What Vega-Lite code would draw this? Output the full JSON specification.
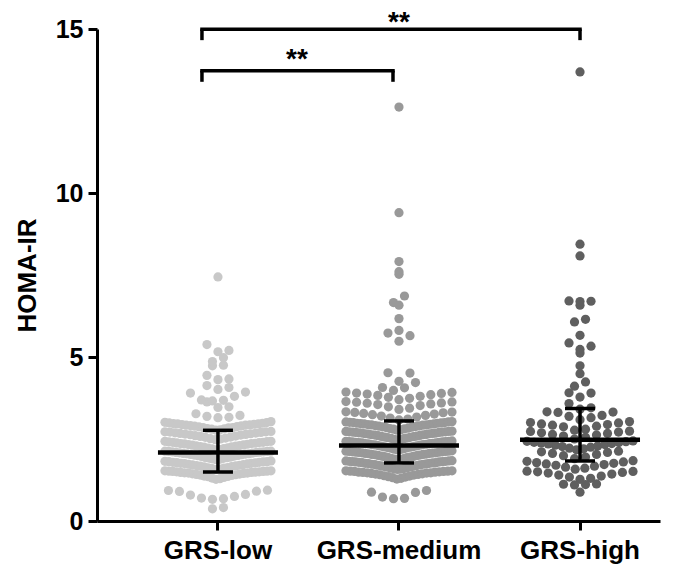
{
"$schema": "https://vega.github.io/schema/vega-lite/v6.json",
"width": 563, "height": 492,
"autosize": {"type": "none"},
"padding": {"left": 97, "top": 29, "right": 34, "bottom": 50},
"background": "white",
"config": {
 "view": {"stroke": null},
 "font": "Liberation Sans",
 "tick": {"opacity": 1},
 "axis": {"domainColor": "#000", "domainWidth": 3, "tickColor": "#000", "tickWidth": 3, "tickSize": 9, "labelColor": "#000", "labelFont": "Liberation Sans", "labelFontWeight": "bold", "titleColor": "#000", "titleFont": "Liberation Sans", "titleFontWeight": "bold", "grid": false},
 "axisX": {"title": null, "labelAngle": 0, "labelFontSize": 26, "labelPadding": 7},
 "axisY": {"labelFontSize": 25, "labelPadding": 5, "titleFontSize": 26, "titlePadding": 14}
},
"datasets": {
 "pts": [
{"group":"GRS-low","homa":3.15},{"group":"GRS-low","homa":3.16},{"group":"GRS-low","homa":3.19},{"group":"GRS-low","homa":3.22},{"group":"GRS-low","homa":3.27},{"group":"GRS-low","homa":3.46},{"group":"GRS-low","homa":3.48},{"group":"GRS-low","homa":3.63},{"group":"GRS-low","homa":3.66},{"group":"GRS-low","homa":3.68},{"group":"GRS-low","homa":3.69},{"group":"GRS-low","homa":3.80},{"group":"GRS-low","homa":3.90},{"group":"GRS-low","homa":3.93},{"group":"GRS-low","homa":4.01},{"group":"GRS-low","homa":4.07},{"group":"GRS-low","homa":4.13},{"group":"GRS-low","homa":4.31},{"group":"GRS-low","homa":4.33},{"group":"GRS-low","homa":4.44},{"group":"GRS-low","homa":4.73},{"group":"GRS-low","homa":4.75},{"group":"GRS-low","homa":4.86},{"group":"GRS-low","homa":4.98},{"group":"GRS-low","homa":5.16},{"group":"GRS-low","homa":5.20},{"group":"GRS-low","homa":5.38},{"group":"GRS-low","homa":7.44},
{"group":"GRS-low","homa":2.77},{"group":"GRS-low","homa":2.78},{"group":"GRS-low","homa":2.80},{"group":"GRS-low","homa":2.81},{"group":"GRS-low","homa":2.82},{"group":"GRS-low","homa":2.84},{"group":"GRS-low","homa":2.85},{"group":"GRS-low","homa":2.85},{"group":"GRS-low","homa":2.87},{"group":"GRS-low","homa":2.88},{"group":"GRS-low","homa":2.89},{"group":"GRS-low","homa":2.90},{"group":"GRS-low","homa":2.91},{"group":"GRS-low","homa":2.92},{"group":"GRS-low","homa":2.92},{"group":"GRS-low","homa":2.93},{"group":"GRS-low","homa":2.94},{"group":"GRS-low","homa":2.95},{"group":"GRS-low","homa":2.96},{"group":"GRS-low","homa":2.96},{"group":"GRS-low","homa":2.97},{"group":"GRS-low","homa":2.98},{"group":"GRS-low","homa":2.99},{"group":"GRS-low","homa":3.00},{"group":"GRS-low","homa":3.01},{"group":"GRS-low","homa":3.03},
{"group":"GRS-low","homa":2.48},{"group":"GRS-low","homa":2.50},{"group":"GRS-low","homa":2.51},{"group":"GRS-low","homa":2.53},{"group":"GRS-low","homa":2.55},{"group":"GRS-low","homa":2.56},{"group":"GRS-low","homa":2.58},{"group":"GRS-low","homa":2.59},{"group":"GRS-low","homa":2.60},{"group":"GRS-low","homa":2.62},{"group":"GRS-low","homa":2.63},{"group":"GRS-low","homa":2.64},{"group":"GRS-low","homa":2.65},{"group":"GRS-low","homa":2.66},{"group":"GRS-low","homa":2.67},{"group":"GRS-low","homa":2.68},{"group":"GRS-low","homa":2.69},{"group":"GRS-low","homa":2.70},{"group":"GRS-low","homa":2.71},{"group":"GRS-low","homa":2.72},{"group":"GRS-low","homa":2.72},{"group":"GRS-low","homa":2.73},
{"group":"GRS-low","homa":2.17},{"group":"GRS-low","homa":2.18},{"group":"GRS-low","homa":2.20},{"group":"GRS-low","homa":2.21},{"group":"GRS-low","homa":2.22},{"group":"GRS-low","homa":2.23},{"group":"GRS-low","homa":2.25},{"group":"GRS-low","homa":2.26},{"group":"GRS-low","homa":2.27},{"group":"GRS-low","homa":2.28},{"group":"GRS-low","homa":2.29},{"group":"GRS-low","homa":2.30},{"group":"GRS-low","homa":2.31},{"group":"GRS-low","homa":2.32},{"group":"GRS-low","homa":2.33},{"group":"GRS-low","homa":2.34},{"group":"GRS-low","homa":2.35},{"group":"GRS-low","homa":2.36},{"group":"GRS-low","homa":2.36},{"group":"GRS-low","homa":2.37},{"group":"GRS-low","homa":2.38},{"group":"GRS-low","homa":2.39},{"group":"GRS-low","homa":2.40},{"group":"GRS-low","homa":2.40},{"group":"GRS-low","homa":2.41},{"group":"GRS-low","homa":2.42},{"group":"GRS-low","homa":2.43},{"group":"GRS-low","homa":2.43},
{"group":"GRS-low","homa":1.87},{"group":"GRS-low","homa":1.88},{"group":"GRS-low","homa":1.89},{"group":"GRS-low","homa":1.91},{"group":"GRS-low","homa":1.92},{"group":"GRS-low","homa":1.93},{"group":"GRS-low","homa":1.94},{"group":"GRS-low","homa":1.95},{"group":"GRS-low","homa":1.97},{"group":"GRS-low","homa":1.98},{"group":"GRS-low","homa":1.99},{"group":"GRS-low","homa":2.00},{"group":"GRS-low","homa":2.01},{"group":"GRS-low","homa":2.02},{"group":"GRS-low","homa":2.03},{"group":"GRS-low","homa":2.04},{"group":"GRS-low","homa":2.05},{"group":"GRS-low","homa":2.05},{"group":"GRS-low","homa":2.06},{"group":"GRS-low","homa":2.07},{"group":"GRS-low","homa":2.08},{"group":"GRS-low","homa":2.09},{"group":"GRS-low","homa":2.09},{"group":"GRS-low","homa":2.10},{"group":"GRS-low","homa":2.11},{"group":"GRS-low","homa":2.11},{"group":"GRS-low","homa":2.12},{"group":"GRS-low","homa":2.12},{"group":"GRS-low","homa":2.13},{"group":"GRS-low","homa":2.13},
{"group":"GRS-low","homa":1.57},{"group":"GRS-low","homa":1.58},{"group":"GRS-low","homa":1.60},{"group":"GRS-low","homa":1.61},{"group":"GRS-low","homa":1.62},{"group":"GRS-low","homa":1.63},{"group":"GRS-low","homa":1.65},{"group":"GRS-low","homa":1.66},{"group":"GRS-low","homa":1.67},{"group":"GRS-low","homa":1.68},{"group":"GRS-low","homa":1.69},{"group":"GRS-low","homa":1.70},{"group":"GRS-low","homa":1.71},{"group":"GRS-low","homa":1.72},{"group":"GRS-low","homa":1.73},{"group":"GRS-low","homa":1.74},{"group":"GRS-low","homa":1.75},{"group":"GRS-low","homa":1.76},{"group":"GRS-low","homa":1.76},{"group":"GRS-low","homa":1.77},{"group":"GRS-low","homa":1.78},{"group":"GRS-low","homa":1.79},{"group":"GRS-low","homa":1.79},{"group":"GRS-low","homa":1.80},{"group":"GRS-low","homa":1.81},{"group":"GRS-low","homa":1.81},{"group":"GRS-low","homa":1.82},{"group":"GRS-low","homa":1.83},
{"group":"GRS-low","homa":1.27},{"group":"GRS-low","homa":1.29},{"group":"GRS-low","homa":1.31},{"group":"GRS-low","homa":1.33},{"group":"GRS-low","homa":1.35},{"group":"GRS-low","homa":1.36},{"group":"GRS-low","homa":1.37},{"group":"GRS-low","homa":1.39},{"group":"GRS-low","homa":1.40},{"group":"GRS-low","homa":1.41},{"group":"GRS-low","homa":1.42},{"group":"GRS-low","homa":1.43},{"group":"GRS-low","homa":1.44},{"group":"GRS-low","homa":1.45},{"group":"GRS-low","homa":1.46},{"group":"GRS-low","homa":1.46},{"group":"GRS-low","homa":1.47},{"group":"GRS-low","homa":1.48},{"group":"GRS-low","homa":1.48},{"group":"GRS-low","homa":1.49},{"group":"GRS-low","homa":1.50},{"group":"GRS-low","homa":1.50},{"group":"GRS-low","homa":1.51},{"group":"GRS-low","homa":1.51},{"group":"GRS-low","homa":1.52},{"group":"GRS-low","homa":1.52},{"group":"GRS-low","homa":1.53},{"group":"GRS-low","homa":1.53},
{"group":"GRS-low","homa":0.66},{"group":"GRS-low","homa":0.68},{"group":"GRS-low","homa":0.70},{"group":"GRS-low","homa":0.75},{"group":"GRS-low","homa":0.79},{"group":"GRS-low","homa":0.81},{"group":"GRS-low","homa":0.90},{"group":"GRS-low","homa":0.91},{"group":"GRS-low","homa":0.93},{"group":"GRS-low","homa":0.94},{"group":"GRS-low","homa":0.37},{"group":"GRS-low","homa":0.41},
{"group":"GRS-medium","homa":12.62},{"group":"GRS-medium","homa":9.40},{"group":"GRS-medium","homa":7.91},{"group":"GRS-medium","homa":7.60},{"group":"GRS-medium","homa":7.52},{"group":"GRS-medium","homa":6.86},{"group":"GRS-medium","homa":6.66},{"group":"GRS-medium","homa":6.58},{"group":"GRS-medium","homa":6.17},{"group":"GRS-medium","homa":5.81},{"group":"GRS-medium","homa":5.73},{"group":"GRS-medium","homa":5.65},{"group":"GRS-medium","homa":5.48},{"group":"GRS-medium","homa":4.52},{"group":"GRS-medium","homa":4.51},{"group":"GRS-medium","homa":4.26},{"group":"GRS-medium","homa":4.22},{"group":"GRS-medium","homa":4.07},{"group":"GRS-medium","homa":4.06},{"group":"GRS-medium","homa":3.98},
{"group":"GRS-medium","homa":3.70},{"group":"GRS-medium","homa":3.74},{"group":"GRS-medium","homa":3.77},{"group":"GRS-medium","homa":3.80},{"group":"GRS-medium","homa":3.83},{"group":"GRS-medium","homa":3.85},{"group":"GRS-medium","homa":3.87},{"group":"GRS-medium","homa":3.89},{"group":"GRS-medium","homa":3.90},{"group":"GRS-medium","homa":3.92},{"group":"GRS-medium","homa":3.93},
{"group":"GRS-medium","homa":3.40},{"group":"GRS-medium","homa":3.44},{"group":"GRS-medium","homa":3.48},{"group":"GRS-medium","homa":3.52},{"group":"GRS-medium","homa":3.55},{"group":"GRS-medium","homa":3.57},{"group":"GRS-medium","homa":3.59},{"group":"GRS-medium","homa":3.60},{"group":"GRS-medium","homa":3.62},{"group":"GRS-medium","homa":3.63},{"group":"GRS-medium","homa":3.64},
{"group":"GRS-medium","homa":3.08},{"group":"GRS-medium","homa":3.11},{"group":"GRS-medium","homa":3.14},{"group":"GRS-medium","homa":3.17},{"group":"GRS-medium","homa":3.20},{"group":"GRS-medium","homa":3.22},{"group":"GRS-medium","homa":3.24},{"group":"GRS-medium","homa":3.26},{"group":"GRS-medium","homa":3.28},{"group":"GRS-medium","homa":3.30},{"group":"GRS-medium","homa":3.31},{"group":"GRS-medium","homa":3.32},{"group":"GRS-medium","homa":3.33},
{"group":"GRS-medium","homa":2.77},{"group":"GRS-medium","homa":2.78},{"group":"GRS-medium","homa":2.80},{"group":"GRS-medium","homa":2.81},{"group":"GRS-medium","homa":2.82},{"group":"GRS-medium","homa":2.83},{"group":"GRS-medium","homa":2.85},{"group":"GRS-medium","homa":2.86},{"group":"GRS-medium","homa":2.87},{"group":"GRS-medium","homa":2.88},{"group":"GRS-medium","homa":2.89},{"group":"GRS-medium","homa":2.90},{"group":"GRS-medium","homa":2.91},{"group":"GRS-medium","homa":2.92},{"group":"GRS-medium","homa":2.93},{"group":"GRS-medium","homa":2.93},{"group":"GRS-medium","homa":2.94},{"group":"GRS-medium","homa":2.95},{"group":"GRS-medium","homa":2.96},{"group":"GRS-medium","homa":2.96},{"group":"GRS-medium","homa":2.97},{"group":"GRS-medium","homa":2.98},{"group":"GRS-medium","homa":2.98},{"group":"GRS-medium","homa":2.99},{"group":"GRS-medium","homa":3.00},{"group":"GRS-medium","homa":3.00},{"group":"GRS-medium","homa":3.01},{"group":"GRS-medium","homa":3.02},{"group":"GRS-medium","homa":3.02},{"group":"GRS-medium","homa":3.03},
{"group":"GRS-medium","homa":2.47},{"group":"GRS-medium","homa":2.48},{"group":"GRS-medium","homa":2.49},{"group":"GRS-medium","homa":2.51},{"group":"GRS-medium","homa":2.52},{"group":"GRS-medium","homa":2.53},{"group":"GRS-medium","homa":2.54},{"group":"GRS-medium","homa":2.55},{"group":"GRS-medium","homa":2.56},{"group":"GRS-medium","homa":2.57},{"group":"GRS-medium","homa":2.58},{"group":"GRS-medium","homa":2.59},{"group":"GRS-medium","homa":2.60},{"group":"GRS-medium","homa":2.61},{"group":"GRS-medium","homa":2.62},{"group":"GRS-medium","homa":2.63},{"group":"GRS-medium","homa":2.63},{"group":"GRS-medium","homa":2.64},{"group":"GRS-medium","homa":2.65},{"group":"GRS-medium","homa":2.66},{"group":"GRS-medium","homa":2.66},{"group":"GRS-medium","homa":2.67},{"group":"GRS-medium","homa":2.68},{"group":"GRS-medium","homa":2.68},{"group":"GRS-medium","homa":2.69},{"group":"GRS-medium","homa":2.70},{"group":"GRS-medium","homa":2.70},{"group":"GRS-medium","homa":2.71},{"group":"GRS-medium","homa":2.71},{"group":"GRS-medium","homa":2.72},{"group":"GRS-medium","homa":2.72},{"group":"GRS-medium","homa":2.73},{"group":"GRS-medium","homa":2.73},{"group":"GRS-medium","homa":2.74},
{"group":"GRS-medium","homa":2.17},{"group":"GRS-medium","homa":2.18},{"group":"GRS-medium","homa":2.19},{"group":"GRS-medium","homa":2.20},{"group":"GRS-medium","homa":2.22},{"group":"GRS-medium","homa":2.23},{"group":"GRS-medium","homa":2.24},{"group":"GRS-medium","homa":2.25},{"group":"GRS-medium","homa":2.26},{"group":"GRS-medium","homa":2.27},{"group":"GRS-medium","homa":2.28},{"group":"GRS-medium","homa":2.29},{"group":"GRS-medium","homa":2.30},{"group":"GRS-medium","homa":2.31},{"group":"GRS-medium","homa":2.32},{"group":"GRS-medium","homa":2.33},{"group":"GRS-medium","homa":2.33},{"group":"GRS-medium","homa":2.34},{"group":"GRS-medium","homa":2.35},{"group":"GRS-medium","homa":2.36},{"group":"GRS-medium","homa":2.36},{"group":"GRS-medium","homa":2.37},{"group":"GRS-medium","homa":2.38},{"group":"GRS-medium","homa":2.38},{"group":"GRS-medium","homa":2.39},{"group":"GRS-medium","homa":2.40},{"group":"GRS-medium","homa":2.40},{"group":"GRS-medium","homa":2.41},{"group":"GRS-medium","homa":2.41},{"group":"GRS-medium","homa":2.42},{"group":"GRS-medium","homa":2.42},{"group":"GRS-medium","homa":2.43},{"group":"GRS-medium","homa":2.43},{"group":"GRS-medium","homa":2.44},
{"group":"GRS-medium","homa":1.87},{"group":"GRS-medium","homa":1.88},{"group":"GRS-medium","homa":1.89},{"group":"GRS-medium","homa":1.90},{"group":"GRS-medium","homa":1.91},{"group":"GRS-medium","homa":1.93},{"group":"GRS-medium","homa":1.94},{"group":"GRS-medium","homa":1.95},{"group":"GRS-medium","homa":1.96},{"group":"GRS-medium","homa":1.97},{"group":"GRS-medium","homa":1.98},{"group":"GRS-medium","homa":1.99},{"group":"GRS-medium","homa":2.00},{"group":"GRS-medium","homa":2.01},{"group":"GRS-medium","homa":2.02},{"group":"GRS-medium","homa":2.03},{"group":"GRS-medium","homa":2.03},{"group":"GRS-medium","homa":2.04},{"group":"GRS-medium","homa":2.05},{"group":"GRS-medium","homa":2.06},{"group":"GRS-medium","homa":2.06},{"group":"GRS-medium","homa":2.07},{"group":"GRS-medium","homa":2.08},{"group":"GRS-medium","homa":2.08},{"group":"GRS-medium","homa":2.09},{"group":"GRS-medium","homa":2.10},{"group":"GRS-medium","homa":2.10},{"group":"GRS-medium","homa":2.11},{"group":"GRS-medium","homa":2.11},{"group":"GRS-medium","homa":2.12},{"group":"GRS-medium","homa":2.12},{"group":"GRS-medium","homa":2.13},{"group":"GRS-medium","homa":2.13},{"group":"GRS-medium","homa":2.14},
{"group":"GRS-medium","homa":1.57},{"group":"GRS-medium","homa":1.58},{"group":"GRS-medium","homa":1.59},{"group":"GRS-medium","homa":1.60},{"group":"GRS-medium","homa":1.61},{"group":"GRS-medium","homa":1.62},{"group":"GRS-medium","homa":1.64},{"group":"GRS-medium","homa":1.65},{"group":"GRS-medium","homa":1.66},{"group":"GRS-medium","homa":1.67},{"group":"GRS-medium","homa":1.68},{"group":"GRS-medium","homa":1.69},{"group":"GRS-medium","homa":1.70},{"group":"GRS-medium","homa":1.71},{"group":"GRS-medium","homa":1.72},{"group":"GRS-medium","homa":1.73},{"group":"GRS-medium","homa":1.73},{"group":"GRS-medium","homa":1.74},{"group":"GRS-medium","homa":1.75},{"group":"GRS-medium","homa":1.76},{"group":"GRS-medium","homa":1.76},{"group":"GRS-medium","homa":1.77},{"group":"GRS-medium","homa":1.78},{"group":"GRS-medium","homa":1.78},{"group":"GRS-medium","homa":1.79},{"group":"GRS-medium","homa":1.80},{"group":"GRS-medium","homa":1.80},{"group":"GRS-medium","homa":1.81},{"group":"GRS-medium","homa":1.81},{"group":"GRS-medium","homa":1.82},{"group":"GRS-medium","homa":1.82},{"group":"GRS-medium","homa":1.83},{"group":"GRS-medium","homa":1.83},{"group":"GRS-medium","homa":1.84},
{"group":"GRS-medium","homa":1.28},{"group":"GRS-medium","homa":1.30},{"group":"GRS-medium","homa":1.32},{"group":"GRS-medium","homa":1.34},{"group":"GRS-medium","homa":1.35},{"group":"GRS-medium","homa":1.37},{"group":"GRS-medium","homa":1.38},{"group":"GRS-medium","homa":1.40},{"group":"GRS-medium","homa":1.41},{"group":"GRS-medium","homa":1.42},{"group":"GRS-medium","homa":1.43},{"group":"GRS-medium","homa":1.44},{"group":"GRS-medium","homa":1.45},{"group":"GRS-medium","homa":1.46},{"group":"GRS-medium","homa":1.47},{"group":"GRS-medium","homa":1.47},{"group":"GRS-medium","homa":1.48},{"group":"GRS-medium","homa":1.49},{"group":"GRS-medium","homa":1.49},{"group":"GRS-medium","homa":1.50},{"group":"GRS-medium","homa":1.51},{"group":"GRS-medium","homa":1.51},{"group":"GRS-medium","homa":1.52},{"group":"GRS-medium","homa":1.52},{"group":"GRS-medium","homa":1.53},{"group":"GRS-medium","homa":1.53},
{"group":"GRS-medium","homa":0.68},{"group":"GRS-medium","homa":0.69},{"group":"GRS-medium","homa":0.73},{"group":"GRS-medium","homa":0.87},{"group":"GRS-medium","homa":0.88},{"group":"GRS-medium","homa":0.93},
{"group":"GRS-high","homa":13.69},{"group":"GRS-high","homa":8.44},{"group":"GRS-high","homa":8.08},{"group":"GRS-high","homa":6.70},{"group":"GRS-high","homa":6.71},{"group":"GRS-high","homa":6.69},{"group":"GRS-high","homa":6.58},{"group":"GRS-high","homa":6.15},{"group":"GRS-high","homa":6.07},{"group":"GRS-high","homa":5.66},{"group":"GRS-high","homa":5.43},{"group":"GRS-high","homa":5.33},{"group":"GRS-high","homa":5.23},{"group":"GRS-high","homa":5.12},{"group":"GRS-high","homa":4.73},{"group":"GRS-high","homa":4.49},{"group":"GRS-high","homa":4.24},{"group":"GRS-high","homa":4.11},{"group":"GRS-high","homa":3.90},{"group":"GRS-high","homa":3.91},{"group":"GRS-high","homa":3.78},{"group":"GRS-high","homa":3.58},{"group":"GRS-high","homa":3.45},{"group":"GRS-high","homa":3.41},
{"group":"GRS-high","homa":3.09},{"group":"GRS-high","homa":3.15},{"group":"GRS-high","homa":3.19},{"group":"GRS-high","homa":3.22},{"group":"GRS-high","homa":3.31},{"group":"GRS-high","homa":3.32},{"group":"GRS-high","homa":3.33},
{"group":"GRS-high","homa":2.77},{"group":"GRS-high","homa":2.80},{"group":"GRS-high","homa":2.87},{"group":"GRS-high","homa":2.89},{"group":"GRS-high","homa":2.92},{"group":"GRS-high","homa":2.94},{"group":"GRS-high","homa":2.96},{"group":"GRS-high","homa":2.99},{"group":"GRS-high","homa":3.00},{"group":"GRS-high","homa":3.03},
{"group":"GRS-high","homa":2.50},{"group":"GRS-high","homa":2.55},{"group":"GRS-high","homa":2.59},{"group":"GRS-high","homa":2.62},{"group":"GRS-high","homa":2.64},{"group":"GRS-high","homa":2.67},{"group":"GRS-high","homa":2.69},{"group":"GRS-high","homa":2.71},{"group":"GRS-high","homa":2.73},{"group":"GRS-high","homa":2.74},
{"group":"GRS-high","homa":2.17},{"group":"GRS-high","homa":2.20},{"group":"GRS-high","homa":2.22},{"group":"GRS-high","homa":2.25},{"group":"GRS-high","homa":2.27},{"group":"GRS-high","homa":2.29},{"group":"GRS-high","homa":2.31},{"group":"GRS-high","homa":2.33},{"group":"GRS-high","homa":2.35},{"group":"GRS-high","homa":2.36},{"group":"GRS-high","homa":2.38},{"group":"GRS-high","homa":2.39},{"group":"GRS-high","homa":2.40},{"group":"GRS-high","homa":2.42},{"group":"GRS-high","homa":2.43},{"group":"GRS-high","homa":2.44},
{"group":"GRS-high","homa":1.90},{"group":"GRS-high","homa":1.95},{"group":"GRS-high","homa":1.99},{"group":"GRS-high","homa":2.03},{"group":"GRS-high","homa":2.06},{"group":"GRS-high","homa":2.09},{"group":"GRS-high","homa":2.11},{"group":"GRS-high","homa":2.13},
{"group":"GRS-high","homa":1.58},{"group":"GRS-high","homa":1.61},{"group":"GRS-high","homa":1.64},{"group":"GRS-high","homa":1.67},{"group":"GRS-high","homa":1.70},{"group":"GRS-high","homa":1.72},{"group":"GRS-high","homa":1.74},{"group":"GRS-high","homa":1.76},{"group":"GRS-high","homa":1.78},{"group":"GRS-high","homa":1.80},{"group":"GRS-high","homa":1.82},{"group":"GRS-high","homa":1.84},
{"group":"GRS-high","homa":1.27},{"group":"GRS-high","homa":1.30},{"group":"GRS-high","homa":1.34},{"group":"GRS-high","homa":1.37},{"group":"GRS-high","homa":1.40},{"group":"GRS-high","homa":1.43},{"group":"GRS-high","homa":1.46},{"group":"GRS-high","homa":1.48},{"group":"GRS-high","homa":1.50},{"group":"GRS-high","homa":1.51},{"group":"GRS-high","homa":1.52},
{"group":"GRS-high","homa":1.10},{"group":"GRS-high","homa":1.11},{"group":"GRS-high","homa":1.12},{"group":"GRS-high","homa":1.13},{"group":"GRS-high","homa":0.88}
 ],
 "stats": [
  {"group":"GRS-low","median":2.085,"q1":1.494,"q3":2.765},
  {"group":"GRS-medium","median":2.30,"q1":1.77,"q3":3.05},
  {"group":"GRS-high","median":2.48,"q1":1.83,"q3":3.43}
 ]
},
"layer": [
 {
  "data": {"name": "pts"},
  "transform": [
   {"bin": {"step": 0.3, "anchor": 0.05, "nice": false}, "field": "homa", "as": "hb"},
   {"window": [{"op": "row_number", "as": "r"}], "groupby": ["group", "hb"], "sort": [{"field": "homa", "order": "ascending"}]},
   {"joinaggregate": [{"op": "count", "as": "n"}], "groupby": ["group", "hb"]},
   {"calculate": "(datum.r % 2 == 0 ? datum.r / 2 : -(datum.r - 1) / 2) - (datum.n % 2 == 0 ? 0.5 : 0)", "as": "k"},
   {"calculate": "datum.k * min(11, 106 / max(datum.n - 1, 1))", "as": "xo"}
  ],
  "mark": {"type": "circle", "size": 85, "opacity": 1},
  "encoding": {
   "x": {"field": "group", "type": "nominal", "title": null, "sort": ["GRS-low","GRS-medium","GRS-high"], "scale": {"domain": ["GRS-low","GRS-medium","GRS-high"], "paddingInner": 0.5, "paddingOuter": 0.305, "align": 0.6855, "round": false}},
   "xOffset": {"field": "xo", "type": "quantitative", "scale": {"domain": [-45.25, 45.25]}},
   "y": {"field": "homa", "type": "quantitative", "title": "HOMA-IR", "scale": {"domain": [0, 15], "nice": false}, "axis": {"values": [0, 5, 10, 15], "titleFontSize": 26, "titlePadding": 15}},
   "color": {"field": "group", "type": "nominal", "scale": {"domain": ["GRS-low","GRS-medium","GRS-high"], "range": ["#c8c8c8", "#999999", "#5f5f5f"]}, "legend": null}
  }
 },
 {
  "data": {"name": "stats"},
  "mark": {"type": "tick", "orient": "horizontal", "size": 120, "thickness": 4.5, "color": "#000", "opacity": 1},
  "encoding": {
   "x": {"field": "group", "type": "nominal", "title": null, "sort": ["GRS-low","GRS-medium","GRS-high"]},
   "y": {"field": "median", "type": "quantitative", "title": "HOMA-IR", "scale": {"domain": [0, 15], "nice": false}, "axis": {"values": [0, 5, 10, 15], "titleFontSize": 26, "titlePadding": 15}}
  }
 },
 {
  "data": {"name": "stats"},
  "mark": {"type": "tick", "orient": "horizontal", "size": 30, "thickness": 3.5, "color": "#000", "opacity": 1},
  "encoding": {
   "x": {"field": "group", "type": "nominal", "title": null, "sort": ["GRS-low","GRS-medium","GRS-high"]},
   "y": {"field": "q1", "type": "quantitative", "title": "HOMA-IR", "scale": {"domain": [0, 15], "nice": false}, "axis": {"values": [0, 5, 10, 15], "titleFontSize": 26, "titlePadding": 15}}
  }
 },
 {
  "data": {"name": "stats"},
  "mark": {"type": "tick", "orient": "horizontal", "size": 30, "thickness": 3.5, "color": "#000", "opacity": 1},
  "encoding": {
   "x": {"field": "group", "type": "nominal", "title": null, "sort": ["GRS-low","GRS-medium","GRS-high"]},
   "y": {"field": "q3", "type": "quantitative", "title": "HOMA-IR", "scale": {"domain": [0, 15], "nice": false}, "axis": {"values": [0, 5, 10, 15], "titleFontSize": 26, "titlePadding": 15}}
  }
 },
 {
  "data": {"name": "stats"},
  "mark": {"type": "rule", "strokeWidth": 3.5, "color": "#000"},
  "encoding": {
   "x": {"field": "group", "type": "nominal", "title": null, "sort": ["GRS-low","GRS-medium","GRS-high"]},
   "y": {"field": "q1", "type": "quantitative", "title": "HOMA-IR", "scale": {"domain": [0, 15], "nice": false}, "axis": {"values": [0, 5, 10, 15], "titleFontSize": 26, "titlePadding": 15}},
   "y2": {"field": "q3"}
  }
 },
 {
  "data": {"values": [{"a": "GRS-low", "b": "GRS-high", "y": 14.99}]},
  "mark": {"type": "rule", "strokeWidth": 3.5, "color": "#000", "xOffset": -16, "x2Offset": 0, "strokeCap": "square"},
  "encoding": {
   "x": {"field": "a", "type": "nominal", "title": null, "sort": ["GRS-low","GRS-medium","GRS-high"], "bandPosition": 0.5},
   "x2": {"field": "b"},
   "y": {"field": "y", "type": "quantitative", "title": "HOMA-IR", "scale": {"domain": [0, 15], "nice": false}, "axis": {"values": [0, 5, 10, 15], "titleFontSize": 26, "titlePadding": 15}}
  }
 },
 {
  "data": {"values": [{"a": "GRS-low", "b": "GRS-medium", "y": 13.73}]},
  "mark": {"type": "rule", "strokeWidth": 3.5, "color": "#000", "xOffset": -16, "x2Offset": -6, "strokeCap": "square"},
  "encoding": {
   "x": {"field": "a", "type": "nominal", "title": null, "sort": ["GRS-low","GRS-medium","GRS-high"], "bandPosition": 0.5},
   "x2": {"field": "b"},
   "y": {"field": "y", "type": "quantitative", "title": "HOMA-IR", "scale": {"domain": [0, 15], "nice": false}, "axis": {"values": [0, 5, 10, 15], "titleFontSize": 26, "titlePadding": 15}}
  }
 },
 {
  "data": {"values": [{"g": "GRS-low", "y": 14.99, "y2": 14.66}, {"g": "GRS-low", "y": 13.73, "y2": 13.39}]},
  "mark": {"type": "rule", "strokeWidth": 3.5, "color": "#000", "xOffset": -16},
  "encoding": {
   "x": {"field": "g", "type": "nominal", "title": null, "sort": ["GRS-low","GRS-medium","GRS-high"]},
   "y": {"field": "y", "type": "quantitative", "title": "HOMA-IR", "scale": {"domain": [0, 15], "nice": false}, "axis": {"values": [0, 5, 10, 15], "titleFontSize": 26, "titlePadding": 15}},
   "y2": {"field": "y2"}
  }
 },
 {
  "data": {"values": [{"g": "GRS-high", "y": 14.99, "y2": 14.66}]},
  "mark": {"type": "rule", "strokeWidth": 3.5, "color": "#000"},
  "encoding": {
   "x": {"field": "g", "type": "nominal", "title": null, "sort": ["GRS-low","GRS-medium","GRS-high"]},
   "y": {"field": "y", "type": "quantitative", "title": "HOMA-IR", "scale": {"domain": [0, 15], "nice": false}, "axis": {"values": [0, 5, 10, 15], "titleFontSize": 26, "titlePadding": 15}},
   "y2": {"field": "y2"}
  }
 },
 {
  "data": {"values": [{"g": "GRS-medium", "y": 13.73, "y2": 13.39}]},
  "mark": {"type": "rule", "strokeWidth": 3.5, "color": "#000", "xOffset": -6},
  "encoding": {
   "x": {"field": "g", "type": "nominal", "title": null, "sort": ["GRS-low","GRS-medium","GRS-high"]},
   "y": {"field": "y", "type": "quantitative", "title": "HOMA-IR", "scale": {"domain": [0, 15], "nice": false}, "axis": {"values": [0, 5, 10, 15], "titleFontSize": 26, "titlePadding": 15}},
   "y2": {"field": "y2"}
  }
 },
 {
  "data": {"values": [{"g": "GRS-medium", "y": 14.95, "t": "**"}]},
  "mark": {"type": "text", "font": "Liberation Sans", "fontWeight": "bold", "fontSize": 28, "align": "center", "baseline": "alphabetic", "color": "#000"},
  "encoding": {
   "x": {"field": "g", "type": "nominal", "title": null, "sort": ["GRS-low","GRS-medium","GRS-high"]},
   "y": {"field": "y", "type": "quantitative", "title": "HOMA-IR", "scale": {"domain": [0, 15], "nice": false}, "axis": {"values": [0, 5, 10, 15], "titleFontSize": 26, "titlePadding": 15}},
   "text": {"field": "t"}
  }
 },
 {
  "data": {"values": [{"g": "GRS-low", "y": 13.81, "t": "**"}]},
  "mark": {"type": "text", "font": "Liberation Sans", "fontWeight": "bold", "fontSize": 28, "align": "center", "baseline": "alphabetic", "color": "#000", "dx": 79},
  "encoding": {
   "x": {"field": "g", "type": "nominal", "title": null, "sort": ["GRS-low","GRS-medium","GRS-high"]},
   "y": {"field": "y", "type": "quantitative", "title": "HOMA-IR", "scale": {"domain": [0, 15], "nice": false}, "axis": {"values": [0, 5, 10, 15], "titleFontSize": 26, "titlePadding": 15}},
   "text": {"field": "t"}
  }
 }
]
}
